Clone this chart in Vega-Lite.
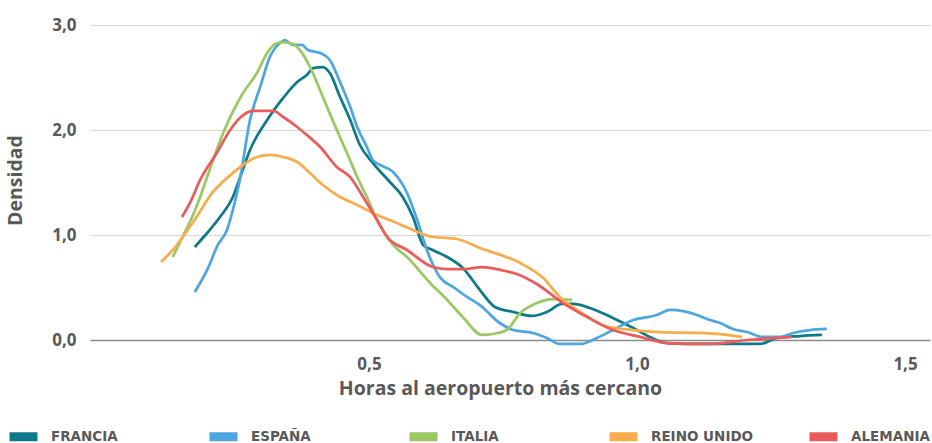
{
  "$schema": "https://vega.github.io/schema/vega-lite/v6.json",
  "autosize": "none",
  "width": 840,
  "height": 315,
  "padding": {"left": 90, "top": 25, "right": 2, "bottom": 103},
  "background": "white",
  "config": {
    "view": {"stroke": null},
    "font": "Open Sans"
  },
  "data": {"values": [
    {"pais":"FRANCIA","x":0.175,"y":0.886},{"pais":"FRANCIA","x":0.198,"y":1.019},{"pais":"FRANCIA","x":0.222,"y":1.171},{"pais":"FRANCIA","x":0.246,"y":1.362},{"pais":"FRANCIA","x":0.263,"y":1.6},{"pais":"FRANCIA","x":0.278,"y":1.81},{"pais":"FRANCIA","x":0.31,"y":2.095},{"pais":"FRANCIA","x":0.34,"y":2.305},{"pais":"FRANCIA","x":0.366,"y":2.457},{"pais":"FRANCIA","x":0.384,"y":2.524},{"pais":"FRANCIA","x":0.396,"y":2.59},{"pais":"FRANCIA","x":0.414,"y":2.6},{"pais":"FRANCIA","x":0.427,"y":2.543},{"pais":"FRANCIA","x":0.446,"y":2.314},{"pais":"FRANCIA","x":0.465,"y":2.095},{"pais":"FRANCIA","x":0.483,"y":1.857},{"pais":"FRANCIA","x":0.507,"y":1.686},{"pais":"FRANCIA","x":0.539,"y":1.505},{"pais":"FRANCIA","x":0.563,"y":1.362},{"pais":"FRANCIA","x":0.582,"y":1.171},{"pais":"FRANCIA","x":0.601,"y":0.905},{"pais":"FRANCIA","x":0.619,"y":0.857},{"pais":"FRANCIA","x":0.646,"y":0.79},{"pais":"FRANCIA","x":0.675,"y":0.686},{"pais":"FRANCIA","x":0.707,"y":0.476},{"pais":"FRANCIA","x":0.735,"y":0.314},{"pais":"FRANCIA","x":0.769,"y":0.267},{"pais":"FRANCIA","x":0.804,"y":0.229},{"pais":"FRANCIA","x":0.832,"y":0.267},{"pais":"FRANCIA","x":0.86,"y":0.343},{"pais":"FRANCIA","x":0.881,"y":0.343},{"pais":"FRANCIA","x":0.912,"y":0.305},{"pais":"FRANCIA","x":0.955,"y":0.21},{"pais":"FRANCIA","x":0.993,"y":0.114},{"pais":"FRANCIA","x":1.024,"y":0.029},{"pais":"FRANCIA","x":1.056,"y":-0.029},{"pais":"FRANCIA","x":1.118,"y":-0.038},{"pais":"FRANCIA","x":1.229,"y":-0.038},{"pais":"FRANCIA","x":1.261,"y":0.019},{"pais":"FRANCIA","x":1.304,"y":0.038},{"pais":"FRANCIA","x":1.345,"y":0.048},
    {"pais":"ESPAÑA","x":0.175,"y":0.457},{"pais":"ESPAÑA","x":0.198,"y":0.667},{"pais":"ESPAÑA","x":0.218,"y":0.905},{"pais":"ESPAÑA","x":0.235,"y":1.048},{"pais":"ESPAÑA","x":0.246,"y":1.238},{"pais":"ESPAÑA","x":0.259,"y":1.524},{"pais":"ESPAÑA","x":0.278,"y":2.095},{"pais":"ESPAÑA","x":0.297,"y":2.41},{"pais":"ESPAÑA","x":0.315,"y":2.695},{"pais":"ESPAÑA","x":0.334,"y":2.829},{"pais":"ESPAÑA","x":0.343,"y":2.857},{"pais":"ESPAÑA","x":0.358,"y":2.81},{"pais":"ESPAÑA","x":0.375,"y":2.81},{"pais":"ESPAÑA","x":0.386,"y":2.762},{"pais":"ESPAÑA","x":0.409,"y":2.733},{"pais":"ESPAÑA","x":0.427,"y":2.667},{"pais":"ESPAÑA","x":0.446,"y":2.457},{"pais":"ESPAÑA","x":0.465,"y":2.219},{"pais":"ESPAÑA","x":0.478,"y":2.029},{"pais":"ESPAÑA","x":0.496,"y":1.838},{"pais":"ESPAÑA","x":0.507,"y":1.714},{"pais":"ESPAÑA","x":0.521,"y":1.667},{"pais":"ESPAÑA","x":0.545,"y":1.6},{"pais":"ESPAÑA","x":0.571,"y":1.4},{"pais":"ESPAÑA","x":0.59,"y":1.143},{"pais":"ESPAÑA","x":0.608,"y":0.857},{"pais":"ESPAÑA","x":0.632,"y":0.6},{"pais":"ESPAÑA","x":0.657,"y":0.505},{"pais":"ESPAÑA","x":0.683,"y":0.41},{"pais":"ESPAÑA","x":0.707,"y":0.333},{"pais":"ESPAÑA","x":0.744,"y":0.162},{"pais":"ESPAÑA","x":0.769,"y":0.095},{"pais":"ESPAÑA","x":0.806,"y":0.067},{"pais":"ESPAÑA","x":0.832,"y":0.019},{"pais":"ESPAÑA","x":0.856,"y":-0.038},{"pais":"ESPAÑA","x":0.894,"y":-0.038},{"pais":"ESPAÑA","x":0.925,"y":0.019},{"pais":"ESPAÑA","x":0.955,"y":0.095},{"pais":"ESPAÑA","x":0.993,"y":0.19},{"pais":"ESPAÑA","x":1.037,"y":0.238},{"pais":"ESPAÑA","x":1.062,"y":0.286},{"pais":"ESPAÑA","x":1.086,"y":0.276},{"pais":"ESPAÑA","x":1.112,"y":0.238},{"pais":"ESPAÑA","x":1.136,"y":0.19},{"pais":"ESPAÑA","x":1.155,"y":0.162},{"pais":"ESPAÑA","x":1.179,"y":0.105},{"pais":"ESPAÑA","x":1.205,"y":0.076},{"pais":"ESPAÑA","x":1.235,"y":0.029},{"pais":"ESPAÑA","x":1.267,"y":0.029},{"pais":"ESPAÑA","x":1.291,"y":0.067},{"pais":"ESPAÑA","x":1.323,"y":0.095},{"pais":"ESPAÑA","x":1.354,"y":0.105},
    {"pais":"ITALIA","x":0.134,"y":0.79},{"pais":"ITALIA","x":0.151,"y":0.971},{"pais":"ITALIA","x":0.17,"y":1.171},{"pais":"ITALIA","x":0.185,"y":1.362},{"pais":"ITALIA","x":0.198,"y":1.552},{"pais":"ITALIA","x":0.228,"y":1.971},{"pais":"ITALIA","x":0.265,"y":2.352},{"pais":"ITALIA","x":0.291,"y":2.543},{"pais":"ITALIA","x":0.31,"y":2.733},{"pais":"ITALIA","x":0.325,"y":2.819},{"pais":"ITALIA","x":0.34,"y":2.838},{"pais":"ITALIA","x":0.358,"y":2.819},{"pais":"ITALIA","x":0.371,"y":2.762},{"pais":"ITALIA","x":0.39,"y":2.6},{"pais":"ITALIA","x":0.414,"y":2.314},{"pais":"ITALIA","x":0.44,"y":2.0},{"pais":"ITALIA","x":0.459,"y":1.781},{"pais":"ITALIA","x":0.478,"y":1.552},{"pais":"ITALIA","x":0.496,"y":1.362},{"pais":"ITALIA","x":0.515,"y":1.143},{"pais":"ITALIA","x":0.545,"y":0.905},{"pais":"ITALIA","x":0.571,"y":0.79},{"pais":"ITALIA","x":0.614,"y":0.543},{"pais":"ITALIA","x":0.646,"y":0.381},{"pais":"ITALIA","x":0.675,"y":0.219},{"pais":"ITALIA","x":0.711,"y":0.048},{"pais":"ITALIA","x":0.731,"y":0.057},{"pais":"ITALIA","x":0.757,"y":0.095},{"pais":"ITALIA","x":0.782,"y":0.257},{"pais":"ITALIA","x":0.813,"y":0.352},{"pais":"ITALIA","x":0.843,"y":0.39},{"pais":"ITALIA","x":0.879,"y":0.381},
    {"pais":"REINO UNIDO","x":0.112,"y":0.743},{"pais":"REINO UNIDO","x":0.134,"y":0.857},{"pais":"REINO UNIDO","x":0.172,"y":1.124},{"pais":"REINO UNIDO","x":0.209,"y":1.41},{"pais":"REINO UNIDO","x":0.246,"y":1.59},{"pais":"REINO UNIDO","x":0.291,"y":1.743},{"pais":"REINO UNIDO","x":0.315,"y":1.762},{"pais":"REINO UNIDO","x":0.34,"y":1.743},{"pais":"REINO UNIDO","x":0.366,"y":1.695},{"pais":"REINO UNIDO","x":0.39,"y":1.59},{"pais":"REINO UNIDO","x":0.414,"y":1.476},{"pais":"REINO UNIDO","x":0.446,"y":1.362},{"pais":"REINO UNIDO","x":0.478,"y":1.286},{"pais":"REINO UNIDO","x":0.515,"y":1.19},{"pais":"REINO UNIDO","x":0.552,"y":1.114},{"pais":"REINO UNIDO","x":0.582,"y":1.048},{"pais":"REINO UNIDO","x":0.619,"y":0.981},{"pais":"REINO UNIDO","x":0.664,"y":0.962},{"pais":"REINO UNIDO","x":0.707,"y":0.876},{"pais":"REINO UNIDO","x":0.782,"y":0.733},{"pais":"REINO UNIDO","x":0.825,"y":0.59},{"pais":"REINO UNIDO","x":0.856,"y":0.41},{"pais":"REINO UNIDO","x":0.894,"y":0.267},{"pais":"REINO UNIDO","x":0.94,"y":0.133},{"pais":"REINO UNIDO","x":0.993,"y":0.095},{"pais":"REINO UNIDO","x":1.043,"y":0.076},{"pais":"REINO UNIDO","x":1.118,"y":0.067},{"pais":"REINO UNIDO","x":1.155,"y":0.057},{"pais":"REINO UNIDO","x":1.196,"y":0.029},
    {"pais":"ALEMANIA","x":0.151,"y":1.171},{"pais":"ALEMANIA","x":0.166,"y":1.305},{"pais":"ALEMANIA","x":0.185,"y":1.524},{"pais":"ALEMANIA","x":0.216,"y":1.781},{"pais":"ALEMANIA","x":0.241,"y":2.0},{"pais":"ALEMANIA","x":0.259,"y":2.114},{"pais":"ALEMANIA","x":0.284,"y":2.181},{"pais":"ALEMANIA","x":0.321,"y":2.181},{"pais":"ALEMANIA","x":0.34,"y":2.124},{"pais":"ALEMANIA","x":0.366,"y":2.029},{"pais":"ALEMANIA","x":0.384,"y":1.952},{"pais":"ALEMANIA","x":0.409,"y":1.838},{"pais":"ALEMANIA","x":0.44,"y":1.648},{"pais":"ALEMANIA","x":0.465,"y":1.552},{"pais":"ALEMANIA","x":0.489,"y":1.362},{"pais":"ALEMANIA","x":0.515,"y":1.143},{"pais":"ALEMANIA","x":0.534,"y":0.981},{"pais":"ALEMANIA","x":0.571,"y":0.857},{"pais":"ALEMANIA","x":0.619,"y":0.695},{"pais":"ALEMANIA","x":0.646,"y":0.676},{"pais":"ALEMANIA","x":0.675,"y":0.676},{"pais":"ALEMANIA","x":0.713,"y":0.695},{"pais":"ALEMANIA","x":0.744,"y":0.667},{"pais":"ALEMANIA","x":0.776,"y":0.629},{"pais":"ALEMANIA","x":0.813,"y":0.533},{"pais":"ALEMANIA","x":0.862,"y":0.352},{"pais":"ALEMANIA","x":0.907,"y":0.219},{"pais":"ALEMANIA","x":0.955,"y":0.095},{"pais":"ALEMANIA","x":1.006,"y":0.029},{"pais":"ALEMANIA","x":1.056,"y":-0.029},{"pais":"ALEMANIA","x":1.131,"y":-0.038},{"pais":"ALEMANIA","x":1.205,"y":0.0},{"pais":"ALEMANIA","x":1.254,"y":0.019},{"pais":"ALEMANIA","x":1.289,"y":0.029}
  ]},
  "mark": {"type": "line", "interpolate": "monotone", "strokeWidth": 2.75, "clip": false},
  "encoding": {
    "x": {
      "field": "x", "type": "quantitative",
      "scale": {"domain": [-0.0205, 1.5466], "nice": false, "zero": false},
      "axis": {
        "title": "Horas al aeropuerto más cercano",
        "values": [0.5, 1.0, 1.5],
        "labelExpr": "replace(format(datum.value, '.1f'), '.', ',')",
        "grid": false, "ticks": false, "tickSize": 0,
        "domain": true, "domainColor": "#8c8c8c", "domainWidth": 1.5,
        "labelFont": "Open Sans", "labelFontWeight": "bold", "labelFontSize": 17, "labelColor": "#595959",
        "labelPadding": 16,
        "titleFont": "Open Sans", "titleFontWeight": "bold", "titleFontSize": 19.5, "titleColor": "#595959",
        "titleX": 410, "titleY": 39, "titleBaseline": "top"
      }
    },
    "y": {
      "field": "y", "type": "quantitative",
      "scale": {"domain": [0, 3], "nice": false, "zero": false},
      "axis": {
        "title": "Densidad",
        "values": [0, 1, 2, 3],
        "labelExpr": "replace(format(datum.value, '.1f'), '.', ',')",
        "grid": true, "gridColor": "#d6d6d6", "gridWidth": 1.2,
        "ticks": false, "tickSize": 0, "domain": false,
        "labelFont": "Open Sans", "labelFontWeight": "bold", "labelFontSize": 17, "labelColor": "#595959",
        "labelPadding": 14,
        "titleFont": "Open Sans", "titleFontWeight": "bold", "titleFontSize": 19.5, "titleColor": "#595959",
        "titleX": -65, "titleY": 155
      }
    },
    "color": {
      "field": "pais", "type": "nominal",
      "scale": {
        "domain": ["FRANCIA", "ESPAÑA", "ITALIA", "REINO UNIDO", "ALEMANIA"],
        "range": ["#0E7A89", "#4DA6DE", "#9BC765", "#F9AC4B", "#EC5B5B"]
      },
      "legend": {
        "title": null,
        "orient": "none",
        "legendX": -85,
        "legendY": 393,
        "direction": "horizontal",
        "columns": 5,
        "gridAlign": "all",
        "columnPadding": 37,
        "symbolType": "stroke",
        "symbolSize": 784,
        "symbolStrokeWidth": 9,
        "labelFont": "DejaVu Sans", "labelFontWeight": "bold", "labelFontSize": 13.5, "labelColor": "#595959",
        "labelOffset": 9
      }
    }
  }
}
